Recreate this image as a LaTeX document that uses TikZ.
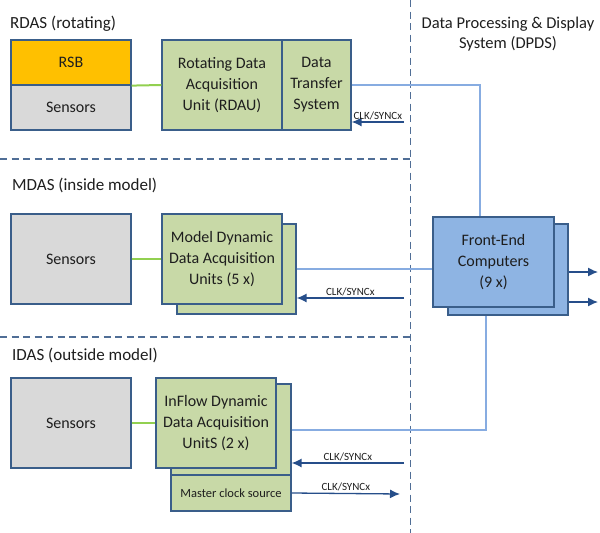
\documentclass[tikz,border=0pt]{standalone}
\usepackage{fontspec}
\setmainfont{Carlito}
\usepackage{tikz}
\usetikzlibrary{arrows.meta,positioning}

\definecolor{bordc}{RGB}{58,94,138}
\definecolor{rsbc}{RGB}{255,192,0}
\definecolor{grayc}{RGB}{217,217,217}
\definecolor{greenc}{RGB}{200,217,167}
\definecolor{fecc}{RGB}{142,180,227}
\definecolor{linkc}{RGB}{135,172,225}
\definecolor{wirec}{RGB}{146,208,80}
\definecolor{clkc}{RGB}{38,78,138}
\definecolor{txtc}{RGB}{30,30,30}
\definecolor{sepc}{RGB}{80,110,150}

\begin{document}
\begin{tikzpicture}[>=Latex,x=1pt,y=-1pt,
  every node/.style={text=txtc},
  unit/.style={draw=bordc,line width=1.2pt,align=center,inner sep=1pt,font=\fontsize{16}{21}\selectfont},
  grp/.style={anchor=west,font=\fontsize{17}{20}\selectfont,inner sep=0pt},
  link/.style={draw=linkc,line width=2pt},
  wire/.style={draw=wirec,line width=2pt},
  clk/.style={draw=clkc,line width=1.3pt,-{Latex[length=10pt,width=9pt]}},
  clklbl/.style={above,font=\fontsize{11}{12}\selectfont,inner sep=1.5pt},
  sep/.style={draw=sepc,line width=1.1pt,dash pattern=on 7pt off 4.5pt}]
\useasboundingbox (0,0) rectangle (600,533);

% separators
\draw[sep] (0,159) -- (410,159);
\draw[sep] (0,337) -- (410,337);
\draw[sep] (410.5,0) -- (410.5,533);

% RDAS
\node[grp] (rdasl) at (10,24) {RDAS (rotating)};
\node[unit,fill=rsbc,minimum width=120,minimum height=45] (rsb) at (71,62.5) {RSB};
\node[unit,fill=grayc,minimum width=120,minimum height=45] (sens1) at (71,107.5) {Sensors};
\node[unit,fill=greenc,minimum width=120,minimum height=90] (rdau) at (222,85) {Rotating Data\\Acquisition\\Unit (RDAU)};
\node[unit,fill=greenc,minimum width=69,minimum height=90] (dts) at (316.5,85) {Data\\Transfer\\System};

% MDAS
\node[grp] (mdasl) at (12,185) {MDAS (inside model)};
\node[unit,fill=grayc,minimum width=120,minimum height=90] (sens2) at (71,259) {Sensors};
\node[unit,fill=greenc,minimum width=119,minimum height=90] (mdauB) at (236.5,269) {};
\node[unit,fill=greenc,minimum width=120,minimum height=90] (mdau) at (222,259) {Model Dynamic\\Data Acquisition\\Units (5 x)};

% IDAS
\node[grp] (idasl) at (12,355) {IDAS (outside model)};
\node[unit,fill=grayc,minimum width=120,minimum height=90] (sens3) at (71,423) {Sensors};
\node[unit,fill=greenc,minimum width=120,minimum height=91] (idauB) at (231,429.5) {};
\node[unit,fill=greenc,minimum width=120,minimum height=90] (idau) at (216,423) {InFlow Dynamic\\Data Acquisition\\UnitS (2 x)};
\node[unit,fill=greenc,minimum width=120,minimum height=36,font=\fontsize{12.5}{14}\selectfont] (msc) at (231,493) {Master clock source};

% DPDS
\node[align=center,font=\fontsize{16.5}{20}\selectfont] (dpdsl) at (508,34) {Data Processing \& Display\\System (DPDS)};
\node[unit,fill=fecc,minimum width=120,minimum height=91] (fecB) at (508,269.5) {};
\node[unit,fill=fecc,minimum width=121,minimum height=90] (fec) at (493.5,262) {Front-End\\Computers\\(9 x)};

% free ends
\coordinate (k1) at (404,122);
\coordinate (k2) at (404,298);
\coordinate (k3) at (404,463);
\coordinate (k4) at (400,494);
\coordinate (o1) at (598,272);
\coordinate (o2) at (598,302);

% sensor wiring
\draw[wire] (rsb.south east) -- (rdau.west);
\draw[wire] (sens2.east) -- (mdau.west);
\draw[wire] (sens3.east) -- (idau.west);

% data links
\draw[link] (dts.east) -| ([xshift=-13.5pt]fec.north);
\draw[link] (mdauB.east) -- (mdauB.east -| fec.west);
\draw[link] (idauB.east) -| ([xshift=-22pt]fecB.south);

% clock
\draw[clk] (k1) -- (k1 -| dts.east) node[clklbl,midway] {CLK/SYNCx};
\draw[clk] (k2) -- (k2 -| mdauB.east) node[clklbl,midway] {CLK/SYNCx};
\draw[clk] (k3) -- (k3 -| idauB.east) node[clklbl,midway] {CLK/SYNCx};
\draw[clk] (msc.east) -- (k4) node[clklbl,midway] {CLK/SYNCx};

% outputs
\draw[clk] (fecB.east |- o1) -- (o1);
\draw[clk] (fecB.east |- o2) -- (o2);
\end{tikzpicture}
\end{document}
